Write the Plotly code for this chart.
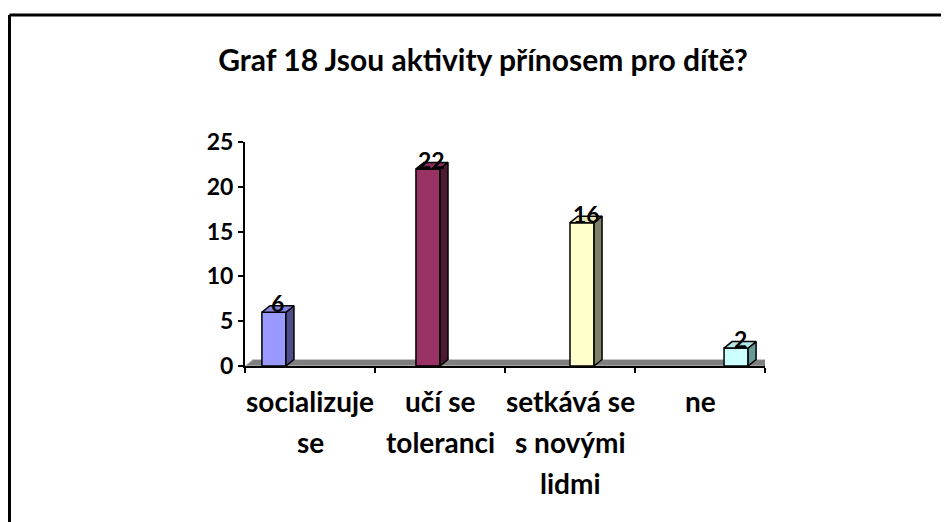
import plotly.graph_objects as go

categories = ["socializuje\nse", "učí se\ntoleranci", "setkává se\ns novými\nlidmi", "ne"]
values = [6, 22, 16, 2]
front_colors = ["#9999FF", "#993366", "#FFFFCC", "#CCFFFF"]
side_colors = ["#4D4D88", "#4D1A33", "#808066", "#669999"]
top_colors = ["#8585E0", "#862C59", "#E6E6B8", "#B3E6E6"]
y_ticks = [0, 5, 10, 15, 20, 25]
title_text = "Graf 18 Jsou aktivity přínosem pro dítě?"

W, H = 949, 522
L, R, T, B = 237, 192, 134, 164
pw, ph = W - L - R, H - T - B
xr = [-0.5, 3.5]
yr = [0, 25]
px_x = pw / (xr[1] - xr[0])
px_y = ph / (yr[1] - yr[0])
dx = 8 / px_x
dy = 6.5 / px_y

gap = 0.26
bw = (1 - gap) / len(categories)
xs = [i - (1 - gap) / 2 + bw * (i + 0.5) for i in range(len(categories))]

FONT = "Lato"
fig = go.Figure()

fig.add_trace(go.Bar(
    x=xs, y=values, width=bw,
    marker=dict(color=front_colors, line=dict(color="black", width=1.5)),
    hoverinfo="skip", showlegend=False,
))

for i, v in enumerate(values):
    x0, x1 = xs[i] - bw / 2, xs[i] + bw / 2
    fig.add_trace(go.Scatter(
        x=[x1, x1 + dx, x1 + dx, x1, x1], y=[0, dy, v + dy, v, 0],
        fill="toself", fillcolor=side_colors[i], mode="lines",
        line=dict(color="black", width=1.5), showlegend=False, hoverinfo="skip",
    ))
    fig.add_trace(go.Scatter(
        x=[x0, x1, x1 + dx, x0 + dx, x0], y=[v, v, v + dy, v + dy, v],
        fill="toself", fillcolor=top_colors[i], mode="lines",
        line=dict(color="black", width=1.5), showlegend=False, hoverinfo="skip",
    ))
    fig.add_annotation(
        x=xs[i] + dx / 2, y=v, yshift=9, text=str(v), showarrow=False,
        font=dict(family=FONT, size=23, color="black", weight="bold"), yanchor="middle",
    )

# floor
fig.add_shape(
    type="path", xref="x", yref="y", layer="below",
    path=f"M {xr[0]} 0 L {xr[1]} 0 L {xr[1] + dx} {dy} L {xr[0] + dx} {dy} Z",
    fillcolor="#7F7F7F", line=dict(color="#C8C8C8", width=1),
)
fig.add_shape(
    type="line", xref="x", yref="y",
    x0=xr[1], y0=0, x1=xr[1] + dx, y1=dy, line=dict(color="black", width=2),
)

# category labels
for i, c in enumerate(categories):
    for j, line in enumerate(c.split("\n")):
        fig.add_annotation(
            x=i, xref="x", y=0, yref="paper", yshift=-35 - 41 * j,
            text=line, showarrow=False, yanchor="middle",
            font=dict(family=FONT, size=28, color="black", weight="bold"),
        )

# frame (top and left edges visible)
fx0 = (1.5 - L) / pw
fx1 = (W + 5 - L) / pw
fy0 = (H - B - 7) / ph
fy1 = (H - B - H - 5) / ph
fig.add_shape(type="line", xref="paper", yref="paper", x0=fx0, y0=fy0, x1=fx1, y1=fy0,
              line=dict(color="black", width=3))
fig.add_shape(type="line", xref="paper", yref="paper", x0=fx0, y0=fy0, x1=fx0, y1=fy1,
              line=dict(color="black", width=3))

fig.update_layout(
    width=W, height=H,
    margin=dict(l=L, r=R, t=T, b=B, autoexpand=False),
    paper_bgcolor="white", plot_bgcolor="white",
    title=dict(text=title_text, x=475 / W, y=1 - 52 / H,
               xanchor="center", yanchor="middle",
               font=dict(family=FONT, size=30, color="black", weight="bold")),
    xaxis=dict(range=xr, tickvals=[-0.5, 0.5, 1.5, 2.5, 3.5], showticklabels=False,
               ticks="outside", ticklen=5, tickwidth=1.5, tickcolor="black",
               showline=True, linecolor="black", linewidth=2, showgrid=False,
               zeroline=False, fixedrange=True),
    yaxis=dict(range=yr, tickvals=y_ticks, ticks="outside", ticklen=5, tickwidth=1.5,
               tickcolor="black", showline=True, linecolor="black", linewidth=2,
               showgrid=False, zeroline=False,
               tickfont=dict(family=FONT, size=23, color="black", weight="bold"),
               fixedrange=True),
    showlegend=False,
)

fig.write_html("out.html")
